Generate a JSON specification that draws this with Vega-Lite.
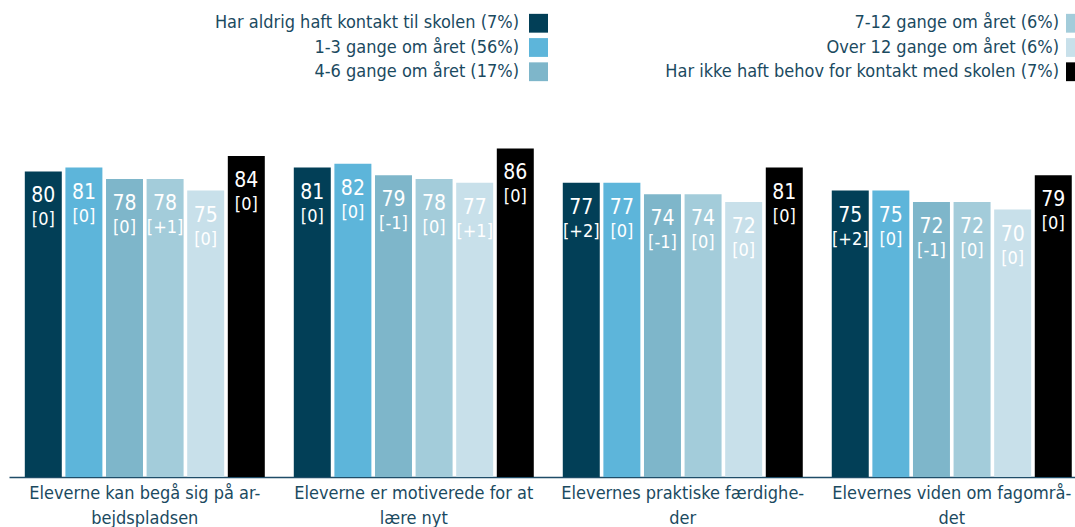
{
  "$schema": "https://vega.github.io/schema/vega-lite/v6.json",
  "padding": {"left": 9, "top": 0, "right": 0, "bottom": 0},
  "background": "white",
  "config": {"view": {"stroke": null}, "concat": {"spacing": 0}, "font": "DejaVu Sans Condensed"},
  "datasets": {
    "bars": [
      {"cat": "Eleverne kan begå sig på ar-|bejdspladsen", "series": "Har aldrig haft kontakt til skolen (7%)", "value": 80, "change": "[0]"},
      {"cat": "Eleverne kan begå sig på ar-|bejdspladsen", "series": "1-3 gange om året (56%)", "value": 81, "change": "[0]"},
      {"cat": "Eleverne kan begå sig på ar-|bejdspladsen", "series": "4-6 gange om året (17%)", "value": 78, "change": "[0]"},
      {"cat": "Eleverne kan begå sig på ar-|bejdspladsen", "series": "7-12 gange om året (6%)", "value": 78, "change": "[+1]"},
      {"cat": "Eleverne kan begå sig på ar-|bejdspladsen", "series": "Over 12 gange om året (6%)", "value": 75, "change": "[0]"},
      {"cat": "Eleverne kan begå sig på ar-|bejdspladsen", "series": "Har ikke haft behov for kontakt med skolen (7%)", "value": 84, "change": "[0]"},
      {"cat": "Eleverne er motiverede for at|lære nyt", "series": "Har aldrig haft kontakt til skolen (7%)", "value": 81, "change": "[0]"},
      {"cat": "Eleverne er motiverede for at|lære nyt", "series": "1-3 gange om året (56%)", "value": 82, "change": "[0]"},
      {"cat": "Eleverne er motiverede for at|lære nyt", "series": "4-6 gange om året (17%)", "value": 79, "change": "[-1]"},
      {"cat": "Eleverne er motiverede for at|lære nyt", "series": "7-12 gange om året (6%)", "value": 78, "change": "[0]"},
      {"cat": "Eleverne er motiverede for at|lære nyt", "series": "Over 12 gange om året (6%)", "value": 77, "change": "[+1]"},
      {"cat": "Eleverne er motiverede for at|lære nyt", "series": "Har ikke haft behov for kontakt med skolen (7%)", "value": 86, "change": "[0]"},
      {"cat": "Elevernes praktiske færdighe-|der", "series": "Har aldrig haft kontakt til skolen (7%)", "value": 77, "change": "[+2]"},
      {"cat": "Elevernes praktiske færdighe-|der", "series": "1-3 gange om året (56%)", "value": 77, "change": "[0]"},
      {"cat": "Elevernes praktiske færdighe-|der", "series": "4-6 gange om året (17%)", "value": 74, "change": "[-1]"},
      {"cat": "Elevernes praktiske færdighe-|der", "series": "7-12 gange om året (6%)", "value": 74, "change": "[0]"},
      {"cat": "Elevernes praktiske færdighe-|der", "series": "Over 12 gange om året (6%)", "value": 72, "change": "[0]"},
      {"cat": "Elevernes praktiske færdighe-|der", "series": "Har ikke haft behov for kontakt med skolen (7%)", "value": 81, "change": "[0]"},
      {"cat": "Elevernes viden om fagområ-|det", "series": "Har aldrig haft kontakt til skolen (7%)", "value": 75, "change": "[+2]"},
      {"cat": "Elevernes viden om fagområ-|det", "series": "1-3 gange om året (56%)", "value": 75, "change": "[0]"},
      {"cat": "Elevernes viden om fagområ-|det", "series": "4-6 gange om året (17%)", "value": 72, "change": "[-1]"},
      {"cat": "Elevernes viden om fagområ-|det", "series": "7-12 gange om året (6%)", "value": 72, "change": "[0]"},
      {"cat": "Elevernes viden om fagområ-|det", "series": "Over 12 gange om året (6%)", "value": 70, "change": "[0]"},
      {"cat": "Elevernes viden om fagområ-|det", "series": "Har ikke haft behov for kontakt med skolen (7%)", "value": 79, "change": "[0]"}
    ],
    "series": [
      {"series": "Har aldrig haft kontakt til skolen (7%)"},
      {"series": "1-3 gange om året (56%)"},
      {"series": "4-6 gange om året (17%)"},
      {"series": "7-12 gange om året (6%)"},
      {"series": "Over 12 gange om året (6%)"},
      {"series": "Har ikke haft behov for kontakt med skolen (7%)"}
    ]
  },
  "vconcat": [
    {
      "hconcat": [
        {
          "width": 539,
          "height": 95,
          "data": {"name": "series"},
          "transform": [{"filter": {"field": "series", "oneOf": ["Har aldrig haft kontakt til skolen (7%)", "1-3 gange om året (56%)", "4-6 gange om året (17%)"]}}],
          "encoding": {
            "y": {"field": "series", "type": "nominal", "scale": {"domain": ["Har aldrig haft kontakt til skolen (7%)", "1-3 gange om året (56%)", "4-6 gange om året (17%)"], "paddingInner": 0.224, "paddingOuter": 0.571}, "axis": null}
          },
          "layer": [
            {
              "mark": {"type": "text", "align": "right", "baseline": "middle", "dx": -29, "fontSize": 18, "color": "#1b4a5f", "font": "DejaVu Sans Condensed"},
              "encoding": {"x": {"value": "width"}, "text": {"field": "series"}}
            },
            {
              "mark": {"type": "rect", "xOffset": -19, "x2Offset": 0},
              "encoding": {
                "x": {"value": "width"}, "x2": {"value": "width"},
                "color": {"field": "series", "type": "nominal", "legend": null,
                  "scale": {"domain": ["Har aldrig haft kontakt til skolen (7%)", "1-3 gange om året (56%)", "4-6 gange om året (17%)", "7-12 gange om året (6%)", "Over 12 gange om året (6%)", "Har ikke haft behov for kontakt med skolen (7%)"],
                    "range": ["#023f57", "#5db5da", "#7eb6ca", "#a3ccda", "#c8e0ea", "#000000"]}}
              }
            }
          ]
        },
        {
          "width": 527,
          "height": 95,
          "data": {"name": "series"},
          "transform": [{"filter": {"field": "series", "oneOf": ["7-12 gange om året (6%)", "Over 12 gange om året (6%)", "Har ikke haft behov for kontakt med skolen (7%)"]}}],
          "encoding": {
            "y": {"field": "series", "type": "nominal", "scale": {"domain": ["7-12 gange om året (6%)", "Over 12 gange om året (6%)", "Har ikke haft behov for kontakt med skolen (7%)"], "paddingInner": 0.224, "paddingOuter": 0.571}, "axis": null}
          },
          "layer": [
            {
              "mark": {"type": "text", "align": "right", "baseline": "middle", "dx": -16, "fontSize": 18, "color": "#1b4a5f", "font": "DejaVu Sans Condensed"},
              "encoding": {"x": {"value": "width"}, "text": {"field": "series"}}
            },
            {
              "mark": {"type": "rect", "xOffset": -9, "x2Offset": 0},
              "encoding": {
                "x": {"value": "width"}, "x2": {"value": "width"},
                "color": {"field": "series", "type": "nominal", "legend": null}
              }
            }
          ]
        }
      ]
    },
    {
      "width": 1066,
      "height": 382,
      "data": {"name": "bars"},
      "encoding": {
        "x": {"field": "cat", "type": "nominal", "sort": null,
          "scale": {"paddingInner": 0.1078, "paddingOuter": 0.0354, "align": 0.83},
          "axis": {"title": null, "labelExpr": "split(datum.label, '|')", "labelAngle": 0, "ticks": false, "labelPadding": 7,
            "domainColor": "#1f4d68", "domainWidth": 1.5, "labelFont": "DejaVu Sans Condensed", "labelFontSize": 18, "labelColor": "#1b4a5f",
            "labelLineHeight": 25.5, "labelLimit": 0, "labelOverlap": false}},
        "xOffset": {"field": "series", "type": "nominal",
          "scale": {"domain": ["Har aldrig haft kontakt til skolen (7%)", "1-3 gange om året (56%)", "4-6 gange om året (17%)", "7-12 gange om året (6%)", "Over 12 gange om året (6%)", "Har ikke haft behov for kontakt med skolen (7%)"], "paddingInner": 0.089, "paddingOuter": 0}},
        "y": {"field": "value", "type": "quantitative", "scale": {"domain": [0, 100]}, "axis": null}
      },
      "layer": [
        {
          "mark": {"type": "bar"},
          "encoding": {"color": {"field": "series", "type": "nominal", "legend": null}}
        },
        {
          "mark": {"type": "text", "color": "white", "fontSize": 21, "baseline": "middle", "dy": 25, "font": "DejaVu Sans Condensed"},
          "encoding": {"text": {"field": "value", "type": "quantitative"}}
        },
        {
          "mark": {"type": "text", "color": "white", "fontSize": 18, "baseline": "middle", "dy": 49, "font": "DejaVu Sans Condensed"},
          "encoding": {"text": {"field": "change", "type": "nominal"}}
        }
      ]
    }
  ]
}
